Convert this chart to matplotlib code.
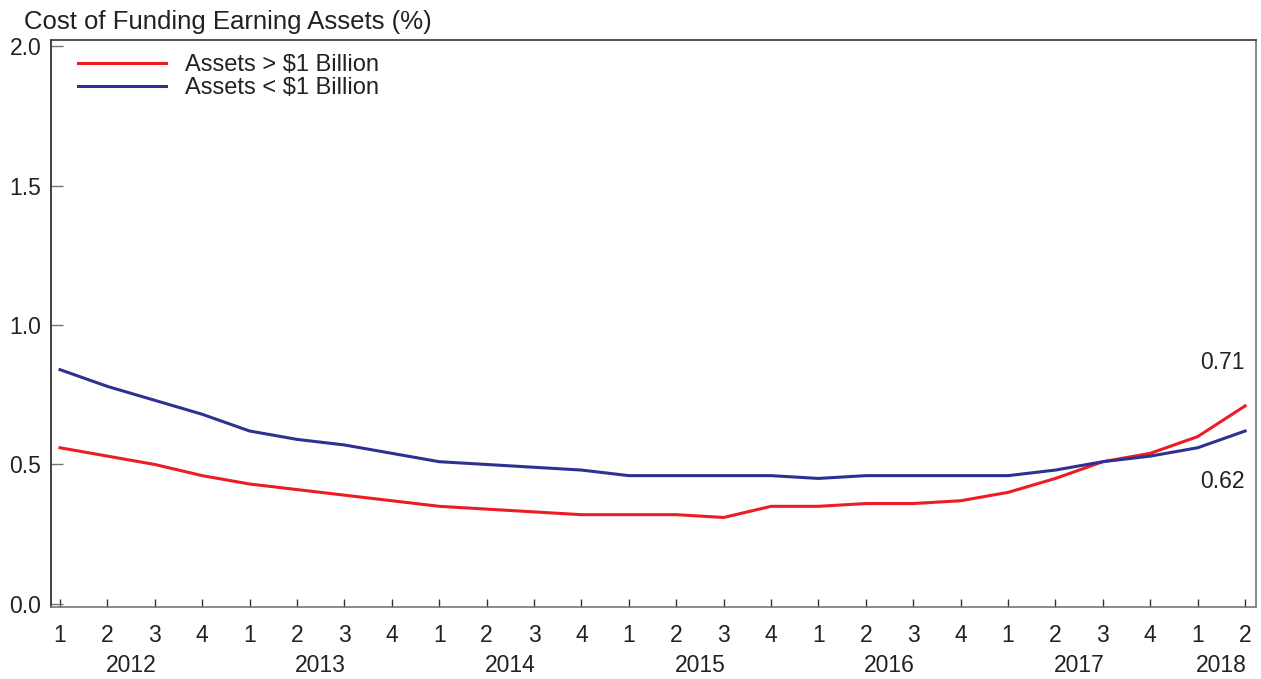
import matplotlib
matplotlib.use("Agg")
import matplotlib.pyplot as plt

plt.rcParams['font.family'] = ['Liberation Sans', 'DejaVu Sans']

years = ["2012", "2013", "2014", "2015", "2016", "2017", "2018"]
quarter_labels = ["1", "2", "3", "4"] * 6 + ["1", "2"]
large = [0.56, 0.53, 0.50, 0.46, 0.43, 0.41, 0.39, 0.37, 0.35, 0.34, 0.33, 0.32,
         0.32, 0.32, 0.31, 0.35, 0.35, 0.36, 0.36, 0.37, 0.40, 0.45, 0.51, 0.54,
         0.60, 0.71]
small = [0.84, 0.78, 0.73, 0.68, 0.62, 0.59, 0.57, 0.54, 0.51, 0.50, 0.49, 0.48,
         0.46, 0.46, 0.46, 0.46, 0.45, 0.46, 0.46, 0.46, 0.46, 0.48, 0.51, 0.53,
         0.56, 0.62]
labels = ["Assets > $1 Billion", "Assets < $1 Billion"]
yticks = [0.0, 0.5, 1.0, 1.5, 2.0]

red = "#ED1C24"
blue = "#2E3192"
txt = "#222222"
fs = 16.5

fig = plt.figure(figsize=(12.61, 6.79), dpi=100)
ax = fig.add_axes([51/1261, 72/679, 1205/1261, 567/679])

x = list(range(len(large)))
ax.plot(x, large, color=red, lw=2.2, label=labels[0])
ax.plot(x, small, color=blue, lw=2.2, label=labels[1])

ax.set_xlim(-0.19, 25.23)
ax.set_ylim(-0.011, 2.022)
ax.set_yticks(yticks)
ax.set_yticklabels([f"{v:.1f}" for v in yticks])
ax.set_xticks(x)
ax.set_xticklabels(quarter_labels)

ax.tick_params(axis='y', direction='in', length=8.5, width=1, color='#777777',
               labelsize=fs, pad=7, labelcolor=txt)
ax.tick_params(axis='x', direction='in', length=6, width=1, color='#333333',
               labelsize=fs, pad=12, labelcolor=txt)

for side, c in [('left', '#222222'), ('top', '#333333'), ('bottom', '#777777'), ('right', '#777777')]:
    ax.spines[side].set_color(c)
    ax.spines[side].set_linewidth(1.2)

trans = ax.get_xaxis_transform()
for i, yr in enumerate(years):
    xc = i * 4 + 1.5 if i < 6 else 24.5
    ax.text(xc, -0.104, yr, transform=trans, ha='center', va='center',
            fontsize=fs, color=txt)

ax.text(25.0, 0.867, f"{large[-1]:.2f}", ha='right', va='center', fontsize=fs, color=txt)
ax.text(25.0, 0.44, f"{small[-1]:.2f}", ha='right', va='center', fontsize=fs, color=txt)

fig.text(24/1261, 1 - 22/679, "Cost of Funding Earning Assets (%)", ha='left', va='center',
         fontsize=18.5, color=txt)

leg = ax.legend(loc='upper left', bbox_to_anchor=(0.0145, 0.992), frameon=False,
                fontsize=17, handlelength=3.75, handletextpad=0.8, labelspacing=0.05,
                borderaxespad=0)
for t in leg.get_texts():
    t.set_color(txt)

fig.savefig("out.png", dpi=100)
